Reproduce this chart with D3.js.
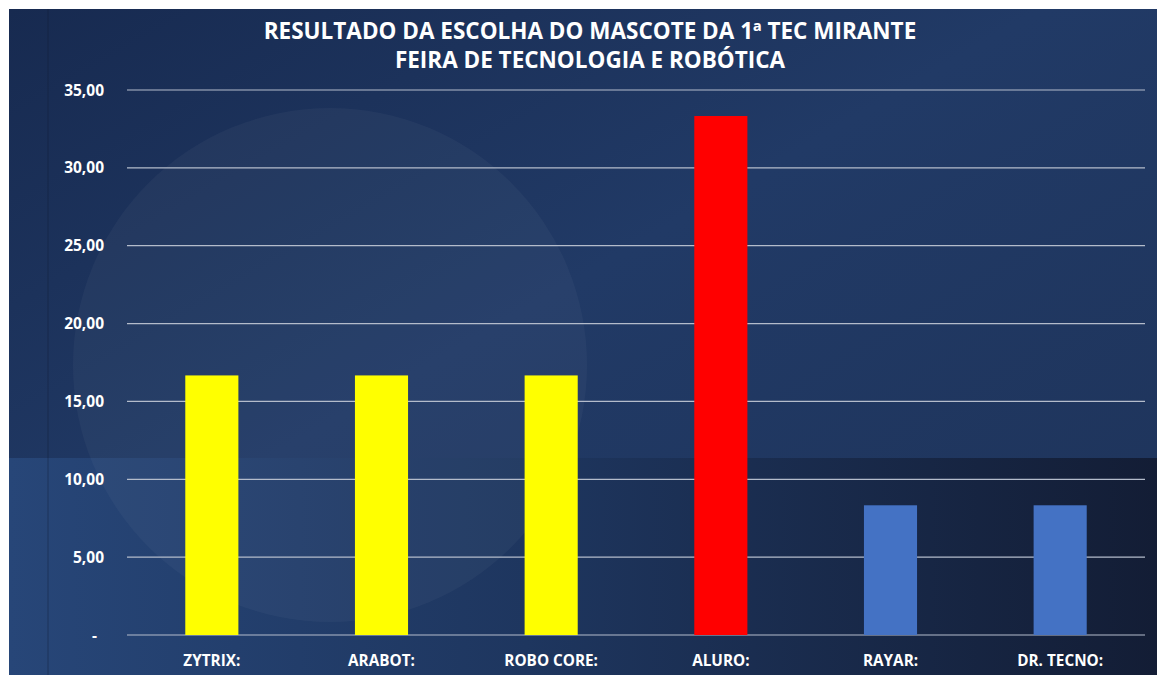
<!DOCTYPE html>
<html>
<head>
<meta charset="utf-8">
<script src="https://cdn.jsdelivr.net/npm/d3@7"></script>
<style>
  html, body { margin: 0; padding: 0; background: #fff; }
  svg { display: block; }
</style>
</head>
<body>
<svg id="chart"></svg>
<script>
// chart data
var mascots = ["ZYTRIX:", "ARABOT:", "ROBO CORE:", "ALURO:", "RAYAR:", "DR. TECNO:"];
var percent = [16.67, 16.67, 16.67, 33.33, 8.33, 8.33];
var barColors = ["#ffff00", "#ffff00", "#ffff00", "#ff0000", "#4472c4", "#4472c4"];
var yTicks = [0, 5, 10, 15, 20, 25, 30, 35];
var titleLines = ["RESULTADO DA ESCOLHA DO MASCOTE DA 1ª TEC MIRANTE", "FEIRA DE TECNOLOGIA E ROBÓTICA"];

var W = 1157, H = 675;
var margin = {top: 90, right: 12, bottom: 40, left: 127};

var svg = d3.select("#chart").attr("width", W).attr("height", H);
var defs = svg.append("defs");

// background gradients
var g1 = defs.append("linearGradient").attr("id", "bgTop")
  .attr("x1", 0).attr("y1", 0).attr("x2", 1).attr("y2", 1);
g1.append("stop").attr("offset", 0).attr("stop-color", "#172a50");
g1.append("stop").attr("offset", 0.45).attr("stop-color", "#213a66");
g1.append("stop").attr("offset", 1).attr("stop-color", "#1e3359");

var g2 = defs.append("linearGradient").attr("id", "bgBottom")
  .attr("x1", 0).attr("y1", 0).attr("x2", 1).attr("y2", 0);
g2.append("stop").attr("offset", 0).attr("stop-color", "#274678");
g2.append("stop").attr("offset", 0.45).attr("stop-color", "#1e365f");
g2.append("stop").attr("offset", 1).attr("stop-color", "#131d35");

var bg = svg.append("g").attr("transform", "translate(9,9)");
var bw = W - 9, bh = H - 9;
bg.append("rect").attr("width", bw).attr("height", bh).attr("fill", "url(#bgTop)");
bg.append("rect").attr("y", 449).attr("width", bw).attr("height", bh - 449).attr("fill", "url(#bgBottom)");
bg.append("circle").attr("cx", 321).attr("cy", 356).attr("r", 257)
  .attr("fill", "#ffffff").attr("opacity", 0.035);
bg.append("rect").attr("x", 38).attr("width", 2).attr("height", bh)
  .attr("fill", "#0d1a33").attr("opacity", 0.2);

// scales
var x = d3.scaleBand().domain(mascots).range([margin.left, W - margin.right]).padding(0);
var y = d3.scaleLinear().domain([0, 35]).range([635, margin.top]);
var barW = x.bandwidth() * 0.313;

// grid
svg.append("g").selectAll("line").data(yTicks).join("line")
  .attr("x1", margin.left).attr("x2", 1145)
  .attr("y1", d => y(d)).attr("y2", d => y(d))
  .attr("stroke", "#b4bccb").attr("stroke-width", 1.2);

// y labels
var fmt = d => d === 0 ? "-" : d3.format(".2f")(d).replace(".", ",");
svg.append("g").selectAll("text").data(yTicks).join("text")
  .attr("x", d => d === 0 ? 97 : 104).attr("y", d => y(d) + 5.5)
  .attr("text-anchor", "end")
  .attr("fill", "#ffffff")
  .attr("font-family", "Open Sans, sans-serif")
  .attr("font-weight", "bold").attr("font-size", 15.5)
  .text(fmt);

// bars
svg.append("g").selectAll("rect").data(mascots).join("rect")
  .attr("x", d => x(d) + (x.bandwidth() - barW) / 2)
  .attr("width", barW)
  .attr("y", (d, i) => y(percent[i]))
  .attr("height", (d, i) => y(0) - y(percent[i]))
  .attr("fill", (d, i) => barColors[i]);

// x labels
svg.append("g").selectAll("text").data(mascots).join("text")
  .attr("x", d => x(d) + x.bandwidth() / 2).attr("y", 666)
  .attr("text-anchor", "middle")
  .attr("fill", "#ffffff")
  .attr("font-family", "Open Sans, sans-serif")
  .attr("font-weight", "bold").attr("font-size", 15.3)
  .text(d => d);

// title
svg.append("g").selectAll("text").data(titleLines).join("text")
  .attr("x", 590).attr("y", (d, i) => 38.5 + i * 29)
  .attr("text-anchor", "middle")
  .attr("fill", "#ffffff")
  .attr("font-family", "Open Sans, sans-serif")
  .attr("font-weight", "bold").attr("font-size", 22.5)
  .text(d => d);
</script>
</body>
</html>
